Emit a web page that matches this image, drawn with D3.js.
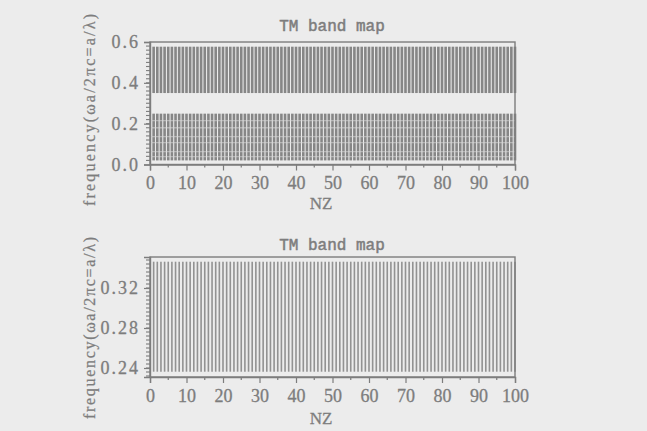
<!DOCTYPE html>
<html>
  <head>
    <title>TM band map</title>
    <meta charset="utf-8">
    <script src="https://d3js.org/d3.v7.min.js"></script>
    <style>
      body { margin: 0; background: #ececec; }
      svg { display: block; }
    </style>
  </head>

  <body>

    <svg width="647" height="431"></svg>

    <script>

      // NZ positions where the modes were computed (one column per NZ)
      var nzValues = [1, 2, 3, 4, 5, 6, 7, 8, 9, 10, 11, 12, 13, 14, 15, 16, 17, 18, 19, 20,
                      21, 22, 23, 24, 25, 26, 27, 28, 29, 30, 31, 32, 33, 34, 35, 36, 37, 38, 39, 40,
                      41, 42, 43, 44, 45, 46, 47, 48, 49, 50, 51, 52, 53, 54, 55, 56, 57, 58, 59, 60,
                      61, 62, 63, 64, 65, 66, 67, 68, 69, 70, 71, 72, 73, 74, 75, 76, 77, 78, 79, 80,
                      81, 82, 83, 84, 85, 86, 87, 88, 89, 90, 91, 92, 93, 94, 95, 96, 97, 98, 99, 100];

      // top panel: two allowed bands (frequency ranges, wa/2pic)
      var topBandLow = [0.02, 0.35];
      var topBandHigh = [0.249, 0.577];
      // faint rows inside the lower band
      var topStripes = [0.039, 0.063, 0.107, 0.137, 0.18, 0.215];

      // bottom panel: zoom on the band between 0.236 and 0.346
      var bottomBandLow = [0.2363];
      var bottomBandHigh = [0.3463];

      var xTicks = [0, 10, 20, 30, 40, 50, 60, 70, 80, 90, 100];
      var topYTicks = [0.0, 0.2, 0.4, 0.6];
      var bottomYTicks = [0.24, 0.28, 0.32];

      var svg = d3.select("svg");
      var ink = "#7d7d7d";

      svg.append("rect")
          .attr("width", 647).attr("height", 431)
          .attr("fill", "#ececec");

      function drawPanel(opt) {
        var x = d3.scaleLinear().domain([0, 100]).range([150, 515]);
        var y = d3.scaleLinear().domain(opt.yDomain).range(opt.yRange);
        var g = svg.append("g");

        // vertical mode columns
        var bands = opt.low.map(function(d, i) { return {lo: d, hi: opt.high[i]}; });
        bands.forEach(function(b) {
          g.append("g").selectAll("line")
              .data(nzValues)
            .enter().append("line")
              .attr("x1", function(d) { return x(d); })
              .attr("x2", function(d) { return x(d); })
              .attr("y1", y(b.lo))
              .attr("y2", y(b.hi))
              .attr("stroke", opt.lineColor)
              .attr("stroke-width", opt.lineWidth);
        });

        if (opt.stripes) {
          g.append("g").selectAll("line")
              .data(opt.stripes)
            .enter().append("line")
              .attr("x1", x(0)).attr("x2", x(100))
              .attr("y1", function(d) { return y(d); })
              .attr("y2", function(d) { return y(d); })
              .attr("stroke", "#d8d8d8")
              .attr("stroke-opacity", 0.55)
              .attr("stroke-width", 1.3);
        }

        // frame
        g.append("rect")
            .attr("x", x(0)).attr("y", opt.yRange[1])
            .attr("width", x(100) - x(0))
            .attr("height", opt.yRange[0] - opt.yRange[1])
            .attr("fill", "none")
            .attr("stroke", ink)
            .attr("stroke-width", 1.4);

        // x axis: major ticks every 10, minor every 5
        var xMinor = d3.range(5, 100, 10);
        g.append("g").selectAll("line")
            .data(xMinor)
          .enter().append("line")
            .attr("x1", function(d) { return x(d); })
            .attr("x2", function(d) { return x(d); })
            .attr("y1", opt.yRange[0]).attr("y2", opt.yRange[0] + 3)
            .attr("stroke", ink).attr("stroke-width", 1.2);

        var xAxis = g.append("g")
            .attr("transform", "translate(0," + opt.yRange[0] + ")")
            .call(d3.axisBottom(x).tickValues(xTicks).tickSize(6).tickPadding(6)
              .tickFormat(d3.format("d")));
        xAxis.select(".domain").attr("stroke", ink).attr("stroke-width", 1.4);
        xAxis.selectAll(".tick line").attr("stroke", ink).attr("stroke-width", 1.2);
        xAxis.selectAll(".tick text")
            .attr("fill", ink)
            .attr("stroke", ink).attr("stroke-width", 0.3)
            .style("font-family", "'Liberation Serif', serif")
            .style("font-size", "18px");

        // y axis: major + minor ticks
        g.append("g").selectAll("line")
            .data(opt.yMinor)
          .enter().append("line")
            .attr("x1", x(0) - 4).attr("x2", x(0))
            .attr("y1", function(d) { return y(d); })
            .attr("y2", function(d) { return y(d); })
            .attr("stroke", ink).attr("stroke-width", 1.1);

        var yAxis = g.append("g")
            .attr("transform", "translate(" + x(0) + ",0)")
            .call(d3.axisLeft(y).tickValues(opt.yTicks).tickSize(6).tickPadding(4)
              .tickFormat(d3.format(opt.yFormat)));
        yAxis.select(".domain").attr("stroke", ink).attr("stroke-width", 1.4);
        yAxis.selectAll(".tick line").attr("stroke", ink).attr("stroke-width", 1.2);
        yAxis.selectAll(".tick text")
            .attr("fill", ink)
            .attr("stroke", ink).attr("stroke-width", 0.3)
            .attr("letter-spacing", "2px")
            .style("font-family", "'Liberation Serif', serif")
            .style("font-size", "18px");

        // title
        g.append("text")
            .attr("x", 332).attr("y", opt.titleY)
            .attr("text-anchor", "middle")
            .attr("fill", ink)
            .attr("stroke", ink).attr("stroke-width", 0.5)
            .style("font-family", "'Liberation Mono', monospace")
            .style("font-size", "16px")
            .text("TM band map");

        // x label
        g.append("text")
            .attr("x", 321).attr("y", opt.xLabelY)
            .attr("text-anchor", "middle")
            .attr("fill", ink)
            .attr("stroke", ink).attr("stroke-width", 0.3)
            .style("font-family", "'Liberation Serif', serif")
            .style("font-size", "17px")
            .text("NZ");

        // y label
        g.append("text")
            .attr("transform", "translate(95," + opt.yLabelCenter + ") rotate(-90)")
            .attr("text-anchor", "middle")
            .attr("fill", ink)
            .attr("stroke", ink).attr("stroke-width", 0.25)
            .attr("textLength", opt.yLabelLength)
            .attr("lengthAdjust", "spacing")
            .style("font-family", "'Liberation Serif', serif")
            .style("font-size", "16px")
            .text("frequency(\u03c9a/2\u03c0c=a/\u03bb)");
      }

      drawPanel({
        yDomain: [0, 0.6], yRange: [164.5, 42],
        low: topBandLow, high: topBandHigh, stripes: topStripes,
        lineColor: "#868686", lineWidth: 2.6,
        yTicks: topYTicks, yMinor: d3.range(0.02, 0.6, 0.02), yFormat: ".1f",
        titleY: 31, xLabelY: 209, yLabelCenter: 110, yLabelLength: 192
      });

      drawPanel({
        yDomain: [0.231, 0.351], yRange: [377, 257],
        low: bottomBandLow, high: bottomBandHigh,
        lineColor: "#929292", lineWidth: 1.6,
        yTicks: bottomYTicks, yMinor: d3.range(0.232, 0.351, 0.004), yFormat: ".2f",
        titleY: 250, xLabelY: 424, yLabelCenter: 328, yLabelLength: 182
      });

    </script>
  </body>
</html>
